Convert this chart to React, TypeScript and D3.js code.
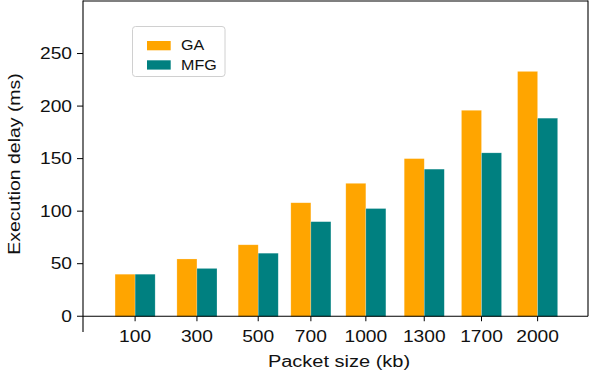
import React from "react";
import * as d3 from "d3";

const categories = ["100", "300", "500", "700", "1000", "1300", "1700", "2000"];
const xValues = [1, 2.08, 3.15, 4.07, 5.03, 6.05, 7.05, 8.03];
const gaValues = [40, 54.5, 68, 108, 126.5, 150, 196, 233];
const mfgValues = [40, 45.5, 60, 90, 102.5, 140, 155.5, 188.5];
const yTicks = [0, 50, 100, 150, 200, 250];
const seriesNames = ["GA", "MFG"];
const seriesColors = ["#FFA500", "#008080"];

const W = 590;
const H = 373;
const left = 83;
const right = 588;
const top = 1;
const bottom = 332;
const barW = 0.35;
const FONT = "'Liberation Sans', Arial, Helvetica, sans-serif";
const SX = 1.2;

export default function App() {
  const x = d3.scaleLinear().domain([0.09, 8.91]).range([left, right]);
  const y = d3.scaleLinear().domain([-15, 300]).range([bottom, top]);
  const y0 = y(0);
  const series = [gaValues, mfgValues];

  return (
    <svg
      width={W}
      height={H}
      style={{ position: "absolute", left: 0, top: 0, background: "#fff" }}
      fontFamily={FONT}
    >
      <rect x={0} y={0} width={W} height={H} fill="#fff" />
      {series.map((vals, si) =>
        vals.map((v, i) => {
          const x0 = si === 0 ? x(xValues[i] - barW) : x(xValues[i]);
          const x1 = si === 0 ? x(xValues[i]) : x(xValues[i] + barW);
          return (
            <rect
              key={`${si}-${i}`}
              x={x0}
              y={y(v)}
              width={x1 - x0}
              height={y0 - y(v) + 0.5}
              fill={seriesColors[si]}
              stroke="#ffffff"
              strokeOpacity={0.35}
              strokeWidth={0.6}
            />
          );
        })
      )}
      <line x1={left} x2={left} y1={top - 0.5} y2={bottom} stroke="#000" strokeWidth={1.1} />
      <line x1={left} x2={right} y1={top} y2={top} stroke="#000" strokeWidth={1.1} />
      <line x1={right} x2={right} y1={top - 0.5} y2={y0} stroke="#000" strokeWidth={1.1} />
      <line x1={left} x2={right} y1={y0} y2={y0} stroke="#000" strokeWidth={1.1} />
      {yTicks.map((t) => (
        <g key={t}>
          <line x1={left - 6} x2={left} y1={y(t)} y2={y(t)} stroke="#000" strokeWidth={1} />
          <text
            transform={`translate(72, ${y(t)}) scale(${SX}, 1)`}
            dy="0.36em"
            textAnchor="end"
            fontSize={16}
            fill="#111"
          >
            {t}
          </text>
        </g>
      ))}
      {categories.map((c, i) => (
        <g key={c}>
          <line x1={x(xValues[i])} x2={x(xValues[i])} y1={y0} y2={y0 + 5} stroke="#000" strokeWidth={1} />
          <text
            transform={`translate(${x(xValues[i])}, 342.3) scale(${SX}, 1)`}
            textAnchor="middle"
            fontSize={16}
            fill="#111"
          >
            {c}
          </text>
        </g>
      ))}
      <text
        transform={`translate(339, 366.7) scale(1.25, 1)`}
        textAnchor="middle"
        fontSize={16}
        fill="#111"
      >
        Packet size (kb)
      </text>
      <text
        transform={`translate(19.5, 164) rotate(-90) scale(1.215, 1)`}
        textAnchor="middle"
        fontSize={16}
        fill="#111"
      >
        Execution delay (ms)
      </text>
      <rect x={132.5} y={26.5} width={92.5} height={50} rx={3} fill="#fff" fillOpacity={0.8} stroke="#d0d0d0" strokeWidth={1} />
      {seriesNames.map((n, i) => (
        <g key={n}>
          <rect x={147} y={41 + i * 19.3} width={23.7} height={9.3} fill={seriesColors[i]} />
          <text
            transform={`translate(181, ${50 + i * 19.5}) scale(1.15, 1)`}
            fontSize={14}
            fill="#111"
          >
            {n}
          </text>
        </g>
      ))}
    </svg>
  );
}
